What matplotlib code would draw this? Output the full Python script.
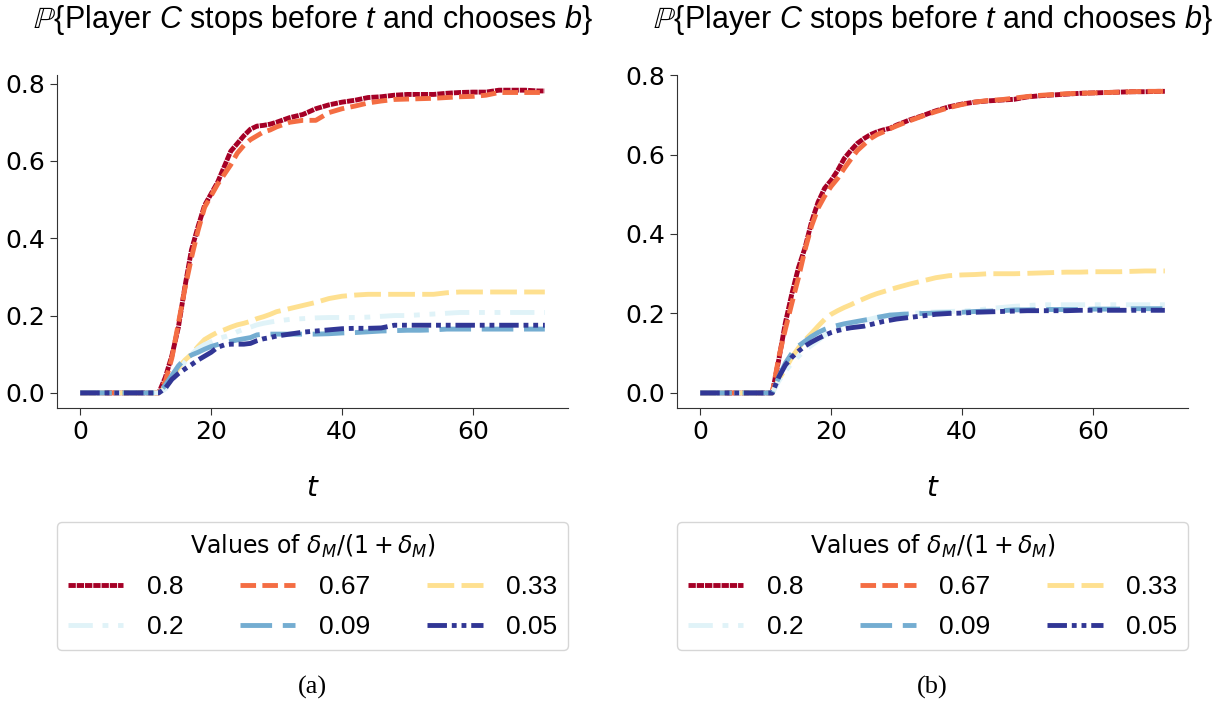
import matplotlib
matplotlib.use("Agg")
import matplotlib.pyplot as plt

# values of delta_M / (1 + delta_M)
labels = ["0.8", "0.67", "0.33", "0.2", "0.09", "0.05"]
colors = ["#a50026", "#f46d43", "#fee090", "#e0f3f8", "#74add1", "#313695"]
styles = [(0, (1.5, 0.2)), (0, (3.2, 1.3)), (0, (5.5, 1.5)),
          (0, (5.0, 2.0, 1.2, 2.0, 1.2, 2.0)), (0, (6.5, 2.2)),
          (0, (4.0, 1.0, 1.0, 1.0, 1.0, 1.0))]

# panel (a)
t_a = [0, 12, 13, 14, 15, 16, 17, 18, 19, 20, 21, 22, 23, 24, 25, 26, 27, 28, 29, 30,
       32, 34, 36, 38, 40, 42, 44, 46, 48, 50, 52, 54, 56, 58, 60, 62, 64, 66, 68, 70, 71]
a_08 = [0, 0, 0.04, 0.096, 0.17, 0.275, 0.37, 0.43, 0.485, 0.515, 0.545, 0.585, 0.625, 0.645, 0.665, 0.682,
        0.69, 0.692, 0.695, 0.70, 0.712, 0.72, 0.735, 0.745, 0.752, 0.757, 0.764, 0.766, 0.77, 0.772,
        0.772, 0.772, 0.775, 0.777, 0.778, 0.778, 0.783, 0.783, 0.783, 0.781, 0.781]
a_067 = [0, 0, 0.03, 0.09, 0.18, 0.27, 0.35, 0.42, 0.48, 0.51, 0.54, 0.565, 0.59, 0.62, 0.64, 0.655,
         0.665, 0.675, 0.68, 0.688, 0.70, 0.705, 0.705, 0.725, 0.735, 0.742, 0.75, 0.755, 0.759, 0.76,
         0.761, 0.762, 0.764, 0.766, 0.767, 0.77, 0.777, 0.777, 0.777, 0.777, 0.777]
a_033 = [0, 0, 0.015, 0.035, 0.065, 0.085, 0.10, 0.12, 0.138, 0.148, 0.157, 0.163, 0.17, 0.176, 0.18, 0.185,
         0.192, 0.197, 0.203, 0.21, 0.218, 0.226, 0.234, 0.244, 0.25, 0.253, 0.255, 0.255, 0.255, 0.255,
         0.255, 0.255, 0.259, 0.261, 0.261, 0.261, 0.261, 0.261, 0.261, 0.261, 0.261]
a_02 = [0, 0, 0.01, 0.03, 0.055, 0.08, 0.10, 0.115, 0.125, 0.132, 0.14, 0.145, 0.15, 0.158, 0.165, 0.17,
        0.176, 0.18, 0.183, 0.186, 0.19, 0.192, 0.194, 0.195, 0.195, 0.195, 0.196, 0.198, 0.2, 0.2,
        0.202, 0.204, 0.206, 0.208, 0.208, 0.208, 0.208, 0.208, 0.208, 0.208, 0.208]
a_009 = [0, 0, 0.02, 0.045, 0.07, 0.088, 0.098, 0.105, 0.113, 0.12, 0.125, 0.13, 0.133, 0.137, 0.14, 0.143,
         0.15, 0.152, 0.152, 0.152, 0.152, 0.152, 0.152, 0.153, 0.155, 0.156, 0.158, 0.16, 0.161, 0.162,
         0.162, 0.163, 0.165, 0.165, 0.165, 0.165, 0.165, 0.165, 0.165, 0.165, 0.165]
a_005 = [0, 0, 0.012, 0.035, 0.05, 0.062, 0.073, 0.085, 0.095, 0.105, 0.118, 0.124, 0.126, 0.126, 0.126, 0.128,
         0.135, 0.14, 0.143, 0.147, 0.152, 0.157, 0.16, 0.163, 0.166, 0.167, 0.167, 0.168, 0.175, 0.175,
         0.175, 0.175, 0.175, 0.175, 0.175, 0.175, 0.175, 0.175, 0.175, 0.175, 0.175]

# panel (b)
t_b = [0, 11, 12, 13, 14, 15, 16, 17, 18, 19, 20, 21, 22, 23, 24, 25, 26, 27, 28, 29, 30,
       32, 34, 36, 38, 40, 42, 44, 46, 48, 50, 52, 54, 56, 58, 60, 62, 64, 66, 68, 70, 71]
b_08 = [0, 0.0, 0.084, 0.176, 0.25, 0.315, 0.365, 0.43, 0.48, 0.515, 0.535, 0.56, 0.59, 0.61, 0.628, 0.64,
        0.65, 0.657, 0.662, 0.666, 0.674, 0.687, 0.698, 0.71, 0.72, 0.727, 0.732, 0.735, 0.737, 0.739,
        0.745, 0.748, 0.75, 0.752, 0.754, 0.755, 0.756, 0.757, 0.758, 0.758, 0.759, 0.759]
b_067 = [0, 0, 0.09, 0.16, 0.226, 0.29, 0.36, 0.42, 0.465, 0.495, 0.52, 0.54, 0.565, 0.588, 0.61, 0.625,
         0.64, 0.65, 0.657, 0.665, 0.672, 0.685, 0.697, 0.708, 0.718, 0.726, 0.732, 0.736, 0.738, 0.742,
         0.746, 0.749, 0.751, 0.753, 0.754, 0.755, 0.756, 0.757, 0.758, 0.759, 0.759, 0.759]
b_033 = [0, 0.0, 0.035, 0.06, 0.09, 0.113, 0.133, 0.15, 0.168, 0.185, 0.198, 0.207, 0.215, 0.222, 0.23, 0.237,
         0.244, 0.25, 0.255, 0.26, 0.265, 0.274, 0.282, 0.29, 0.295, 0.297, 0.298, 0.3, 0.3, 0.3,
         0.301, 0.302, 0.303, 0.304, 0.304, 0.305, 0.305, 0.305, 0.306, 0.307, 0.307, 0.307]
b_02 = [0, 0.0, 0.03, 0.055, 0.075, 0.092, 0.107, 0.12, 0.132, 0.145, 0.155, 0.16, 0.166, 0.172, 0.177, 0.182,
        0.186, 0.19, 0.193, 0.196, 0.198, 0.2, 0.202, 0.204, 0.205, 0.206, 0.208, 0.212, 0.215, 0.218,
        0.22, 0.222, 0.222, 0.222, 0.222, 0.222, 0.222, 0.222, 0.222, 0.222, 0.222, 0.222]
b_009 = [0, 0.0, 0.04, 0.075, 0.1, 0.118, 0.13, 0.142, 0.152, 0.16, 0.166, 0.17, 0.174, 0.177, 0.18, 0.183,
         0.186, 0.19, 0.193, 0.196, 0.197, 0.199, 0.2, 0.201, 0.202, 0.203, 0.205, 0.206, 0.207, 0.209,
         0.209, 0.21, 0.21, 0.21, 0.21, 0.211, 0.211, 0.211, 0.212, 0.212, 0.212, 0.212]
b_005 = [0, 0.0, 0.04, 0.07, 0.09, 0.105, 0.118, 0.128, 0.137, 0.145, 0.152, 0.157, 0.161, 0.164, 0.166, 0.168,
         0.172, 0.176, 0.18, 0.183, 0.186, 0.19, 0.194, 0.198, 0.2, 0.201, 0.203, 0.204, 0.205, 0.206,
         0.207, 0.207, 0.207, 0.207, 0.208, 0.208, 0.208, 0.208, 0.208, 0.208, 0.208, 0.208]

panels = [
    (t_a, [a_08, a_067, a_033, a_02, a_009, a_005], "(a)"),
    (t_b, [b_08, b_067, b_033, b_02, b_009, b_005], "(b)"),
]

plt.rcParams["mathtext.fontset"] = "custom"
plt.rcParams["mathtext.rm"] = "Liberation Sans"
plt.rcParams["mathtext.it"] = "Liberation Sans:italic"
plt.rcParams["mathtext.fallback"] = "stixsans"

fig = plt.figure(figsize=(12.29, 7.08), dpi=100)
axes_rects = [[0.0464, 0.4237, 0.4158, 0.4703], [0.5509, 0.4237, 0.4158, 0.4703]]

title = "$\\mathbb{P}$" + "{Player $C$ stops before $t$ and chooses $b$}"

# legend fills column by column, reference reads row by row
leg_order = [0, 3, 1, 4, 2, 5]

for rect, (t, series, tag) in zip(axes_rects, panels):
    ax = fig.add_axes(rect)
    lines = []
    for vals, lab, col, ls in zip(series, labels, colors, styles):
        ln, = ax.plot(t, vals, color=col, linestyle=ls, linewidth=3.5, label=lab)
        lines.append(ln)
    ax.spines["top"].set_visible(False)
    ax.spines["right"].set_visible(False)
    for s in ["left", "bottom"]:
        ax.spines[s].set_color("#333333")
    ax.set_xticks([0, 20, 40, 60])
    ax.set_yticks([0.0, 0.2, 0.4, 0.6, 0.8])
    ax.tick_params(labelsize=18, length=5, color="#333333")
    ax.set_title(title, fontsize=22, pad=34, family="Liberation Sans", math_fontfamily="custom")
    ax.set_xlabel("$t$", fontsize=20, labelpad=22, math_fontfamily="dejavusans")
    leg = ax.legend([lines[i] for i in leg_order], [labels[i] for i in leg_order],
                    loc="upper left", bbox_to_anchor=(0, -0.342, 1, 0), mode="expand",
                    ncol=3, handlelength=2.1, handletextpad=0.9, labelspacing=0.6,
                    borderpad=0.4, prop={"family": "Liberation Sans", "size": 19},
                    title="Values of $\\delta_M/(1+\\delta_M)$", borderaxespad=0)
    leg.get_title().set_fontsize(17)
    leg.get_title().set_math_fontfamily("dejavusans")
    ax.text(0.5, -0.84, tag, transform=ax.transAxes, ha="center", va="center",
            fontsize=19, family="Liberation Serif")

fig.savefig("out.png", dpi=100)
